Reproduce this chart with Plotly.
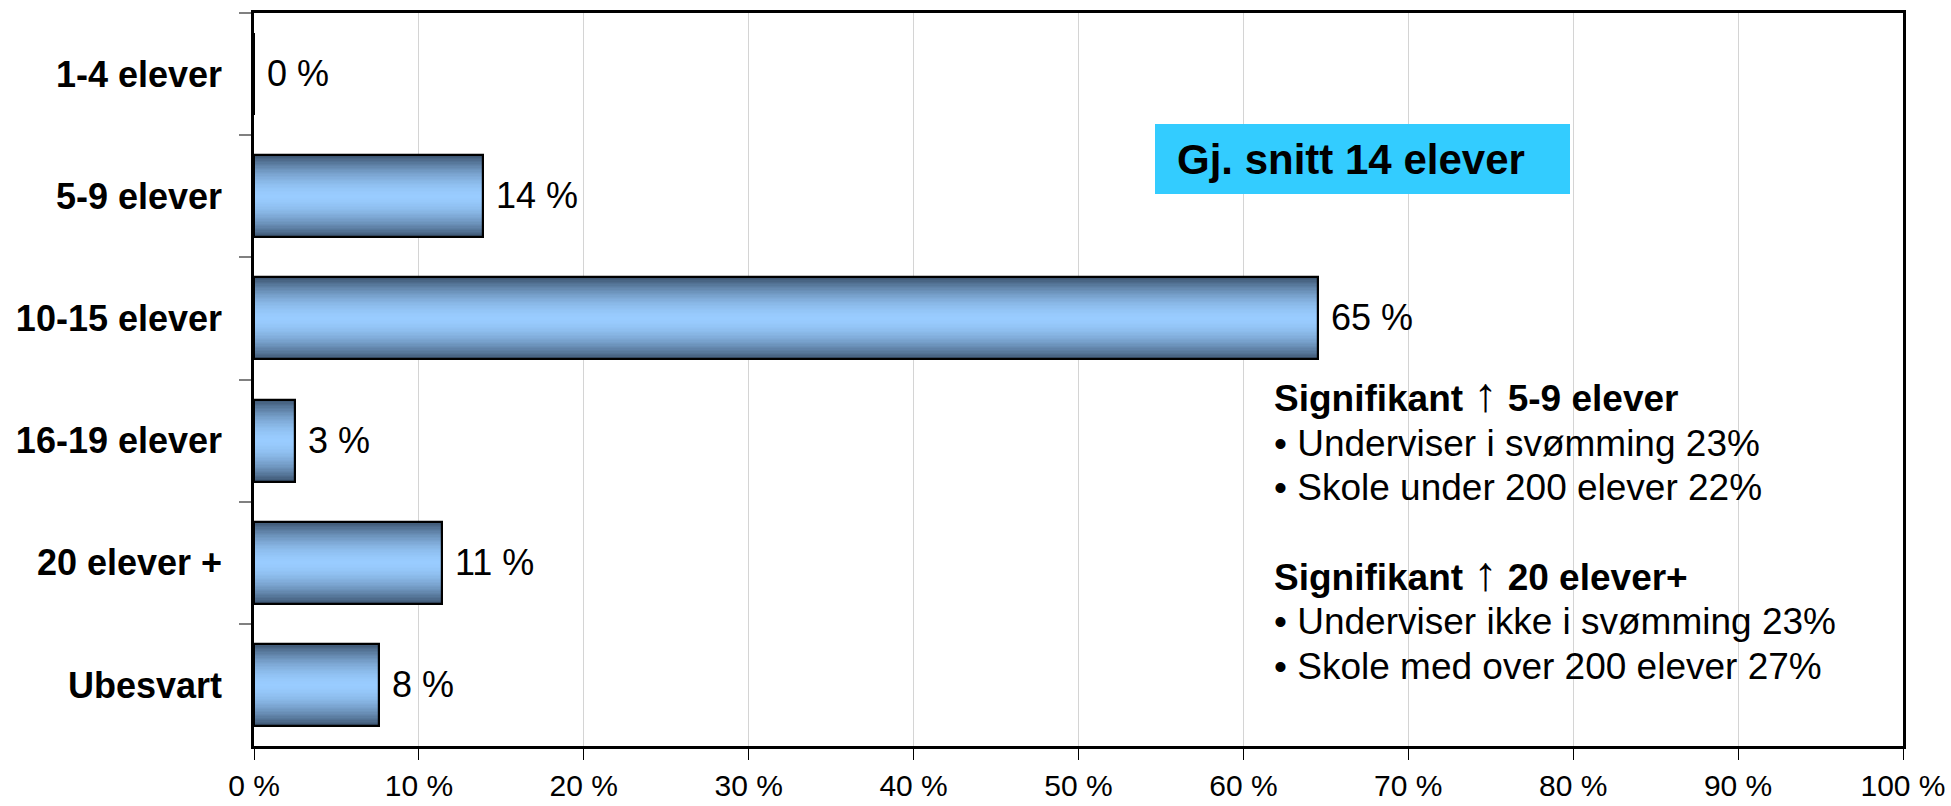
import plotly.graph_objects as go

categories = ["1-4 elever", "5-9 elever", "10-15 elever", "16-19 elever", "20 elever +", "Ubesvart"]
values = [0.0, 13.9, 64.5, 2.5, 11.4, 7.6]
label_pct = [0, 14, 65, 3, 11, 8]
x_ticks = [0, 10, 20, 30, 40, 50, 60, 70, 80, 90, 100]
x_tick_labels = [f"{t} %" for t in x_ticks]

ARROW = '<span style="font-weight:normal;font-size:48px">↑</span>'
note_lines = [
    (f"<b>Signifikant</b> {ARROW} <b>5-9 elever</b>", 394),
    ("• Underviser i svømming 23%", 443),
    ("• Skole under 200 elever 22%", 487),
    (f"<b>Signifikant</b> {ARROW} <b>20 elever+</b>", 573),
    ("• Underviser ikke i svømming 23%", 621),
    ("• Skole med over 200 elever 27%", 666),
]
avg_text = "Gj. snitt 14 elever"

FONT = "Arial, 'Liberation Sans', sans-serif"
W, H = 1951, 806
L, R, T, B = 254, 1903, 13, 746
BAR_W = 0.67

dark = (0x3E, 0x57, 0x74)
light = (0x99, 0xCC, 0xFF)


def mix(t):
    f = t ** 1.8
    return "rgb({},{},{})".format(*[round(light[k] + (dark[k] - light[k]) * f) for k in range(3)])


fig = go.Figure()
N = 30
for i in range(N):
    t = 1 - i / N
    fig.add_trace(go.Bar(
        y=categories, x=values, orientation="h", width=BAR_W * t,
        marker=dict(color=mix(t), line=dict(width=0)),
        hoverinfo="skip", showlegend=False,
    ))

fig.add_trace(go.Bar(
    y=categories, x=values, orientation="h", width=BAR_W,
    marker=dict(color="rgba(0,0,0,0)", line=dict(color="black", width=2.2)),
    text=["\u00a0" + f"{p} %" for p in label_pct], textposition="outside",
    textfont=dict(family=FONT, size=36, color="black"),
    constraintext="none", cliponaxis=False, showlegend=False,
))

fig.update_layout(
    width=W, height=H,
    margin=dict(l=L, r=W - R, t=T, b=H - B, autoexpand=False),
    paper_bgcolor="white", plot_bgcolor="white",
    barmode="overlay", bargap=0,
    font=dict(family=FONT, color="black"),
    showlegend=False,
)

fig.update_xaxes(
    range=[0, 100], tickvals=x_ticks, ticktext=x_tick_labels,
    tickfont=dict(family=FONT, size=30, color="black"),
    ticks="outside", ticklen=11, tickwidth=1, tickcolor="black",
    showgrid=True, gridcolor="#D4D4D4", gridwidth=1,
    showline=True, linecolor="black", linewidth=3, mirror=True,
    zeroline=False, automargin=False, fixedrange=True,
)
fig.update_yaxes(
    categoryorder="array", categoryarray=categories,
    range=[5.5, -0.5],
    tickfont=dict(family=FONT, size=36, color="black", weight="bold"),
    ticks="outside", tickson="boundaries", ticklen=12, tickwidth=2, tickcolor="#808080",
    ticklabelstandoff=22,
    showgrid=False, showline=True, linecolor="black", linewidth=2.5, mirror=True,
    zeroline=False, automargin=False, fixedrange=True,
)

pw, ph = R - L, B - T


def px(x):
    return (x - L) / pw


def py(y):
    return (B - y) / ph


fig.add_shape(type="rect", xref="paper", yref="paper",
              x0=px(1155), x1=px(1570), y0=py(194), y1=py(124),
              fillcolor="#33CCFF", line=dict(width=0), layer="above")
fig.add_annotation(xref="paper", yref="paper", x=px(1175), y=py(160),
                   xanchor="left", yanchor="middle", showarrow=False,
                   text=f"<b>{avg_text}</b>",
                   font=dict(family=FONT, size=42, color="black"))

for txt, yy in note_lines:
    fig.add_annotation(xref="paper", yref="paper", x=px(1272), y=py(yy),
                       xanchor="left", yanchor="middle", showarrow=False,
                       text=txt, font=dict(family=FONT, size=37, color="black"))

fig.write_html(
    "out.html",
    config={"displayModeBar": False},
    post_script="document.body.style.margin='0';document.body.style.overflow='hidden';",
)
